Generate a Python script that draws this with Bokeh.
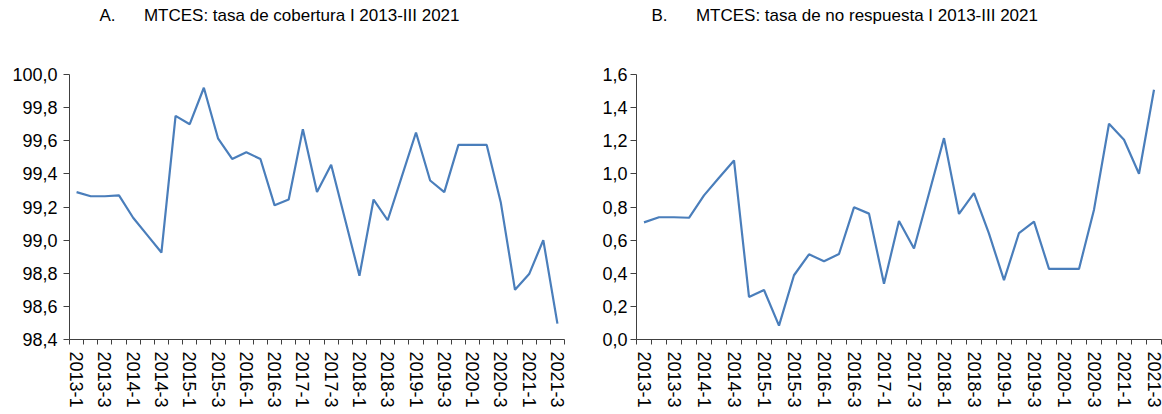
from bokeh.plotting import figure
from bokeh.layouts import row
from bokeh.models import Range1d, FixedTicker, Title
from bokeh.embed import file_html
from bokeh.resources import INLINE

quarters = ["2013-1", "2013-2", "2013-3", "2013-4",
            "2014-1", "2014-2", "2014-3", "2014-4",
            "2015-1", "2015-2", "2015-3", "2015-4",
            "2016-1", "2016-2", "2016-3", "2016-4",
            "2017-1", "2017-2", "2017-3", "2017-4",
            "2018-1", "2018-2", "2018-3", "2018-4",
            "2019-1", "2019-2", "2019-3", "2019-4",
            "2020-1", "2020-2", "2020-3", "2020-4",
            "2021-1", "2021-2", "2021-3"]

cobertura = [99.29, 99.265, 99.265, 99.27, 99.135, 99.03, 98.925, 99.75,
             99.70, 99.92, 99.615, 99.49, 99.53, 99.49, 99.21, 99.245,
             99.67, 99.29, 99.455, 99.12, 98.785, 99.245, 99.12, 99.385,
             99.65, 99.36, 99.29, 99.575, 99.575, 99.575, 99.225, 98.70,
             98.795, 99.0, 98.496]

no_respuesta = [0.707, 0.738, 0.738, 0.735, 0.870, 0.977, 1.081, 0.257,
                0.299, 0.084, 0.388, 0.514, 0.472, 0.516, 0.798, 0.760,
                0.336, 0.716, 0.549, 0.882, 1.216, 0.758, 0.884, 0.639,
                0.358, 0.643, 0.712, 0.426, 0.426, 0.426, 0.784, 1.303,
                1.206, 1.001, 1.508]

y_ticks_a = [98.4, 98.6, 98.8, 99.0, 99.2, 99.4, 99.6, 99.8, 100.0]
y_labels_a = ["98,4", "98,6", "98,8", "99,0", "99,2", "99,4", "99,6", "99,8", "100,0"]
y_ticks_b = [0.0, 0.2, 0.4, 0.6, 0.8, 1.0, 1.2, 1.4, 1.6]
y_labels_b = ["0,0", "0,2", "0,4", "0,6", "0,8", "1,0", "1,2", "1,4", "1,6"]

NB = "\u00a0" * 6
title_a = "A." + NB + "MTCES: tasa de cobertura I 2013-III 2021"
title_b = "B." + NB + "MTCES: tasa de no respuesta I 2013-III 2021"

FONT = "Liberation Sans"
LINE = "#4A7EBB"
AXIS = "#404040"

xs = list(range(len(quarters)))
label_idx = xs[::2]


def make(values, yt, yl, ymin, ymax, title, width, bl, br, bb, t_off, stand):
    p = figure(width=width, height=414, output_backend="svg", toolbar_location=None,
               x_range=Range1d(-0.5, len(quarters) - 0.5), y_range=Range1d(ymin, ymax),
               min_border_left=bl, min_border_right=br, min_border_top=74,
               min_border_bottom=bb)
    p.outline_line_color = None
    p.xgrid.visible = False
    p.ygrid.visible = False
    p.line(xs, values, line_color=LINE, line_width=2.2)

    # spacer between frame and title (nearest to the frame)
    p.add_layout(Title(text="\u00a0", standoff=47, text_font_size="1px",
                       text_color="#ffffff"), "above")
    p.add_layout(Title(text=title, align="left", offset=t_off, standoff=0,
                       text_font=FONT, text_font_size="17px", text_font_style="normal",
                       text_color="#000000"), "above")

    xa = p.xaxis[0]
    xa.ticker = FixedTicker(ticks=label_idx,
                            minor_ticks=[i - 0.5 for i in range(len(quarters) + 1)])
    xa.major_label_overrides = {i: quarters[i] for i in label_idx}
    xa.major_tick_out = 0
    xa.major_tick_in = 0
    xa.minor_tick_out = 5
    xa.minor_tick_in = 0
    xa.minor_tick_line_color = AXIS
    xa.axis_line_color = AXIS
    xa.major_label_orientation = "vertical"
    xa.major_label_standoff = 7
    xa.major_label_text_font = FONT
    xa.major_label_text_font_size = "18px"
    xa.major_label_text_color = "#000000"

    ya = p.yaxis[0]
    ya.ticker = FixedTicker(ticks=yt, minor_ticks=[])
    ya.major_label_overrides = dict(zip(yt, yl))
    ya.major_tick_out = 6
    ya.major_tick_in = 0
    ya.minor_tick_out = 0
    ya.minor_tick_in = 0
    ya.major_tick_line_color = AXIS
    ya.axis_line_color = AXIS
    ya.major_label_standoff = stand
    ya.major_label_text_font = FONT
    ya.major_label_text_font_size = "18px"
    ya.major_label_text_color = "#000000"
    return p


pa = make(cobertura, y_ticks_a, y_labels_a, 98.4, 100.0, title_a,
          590, 69, 26, 73, 30, 6)
pb = make(no_respuesta, y_ticks_b, y_labels_b, 0.0, 1.6, title_b,
          572, 46, 1, 75, 15, 3)

layout = row(pa, pb)
open("out.html", "w").write(file_html(layout, INLINE))
